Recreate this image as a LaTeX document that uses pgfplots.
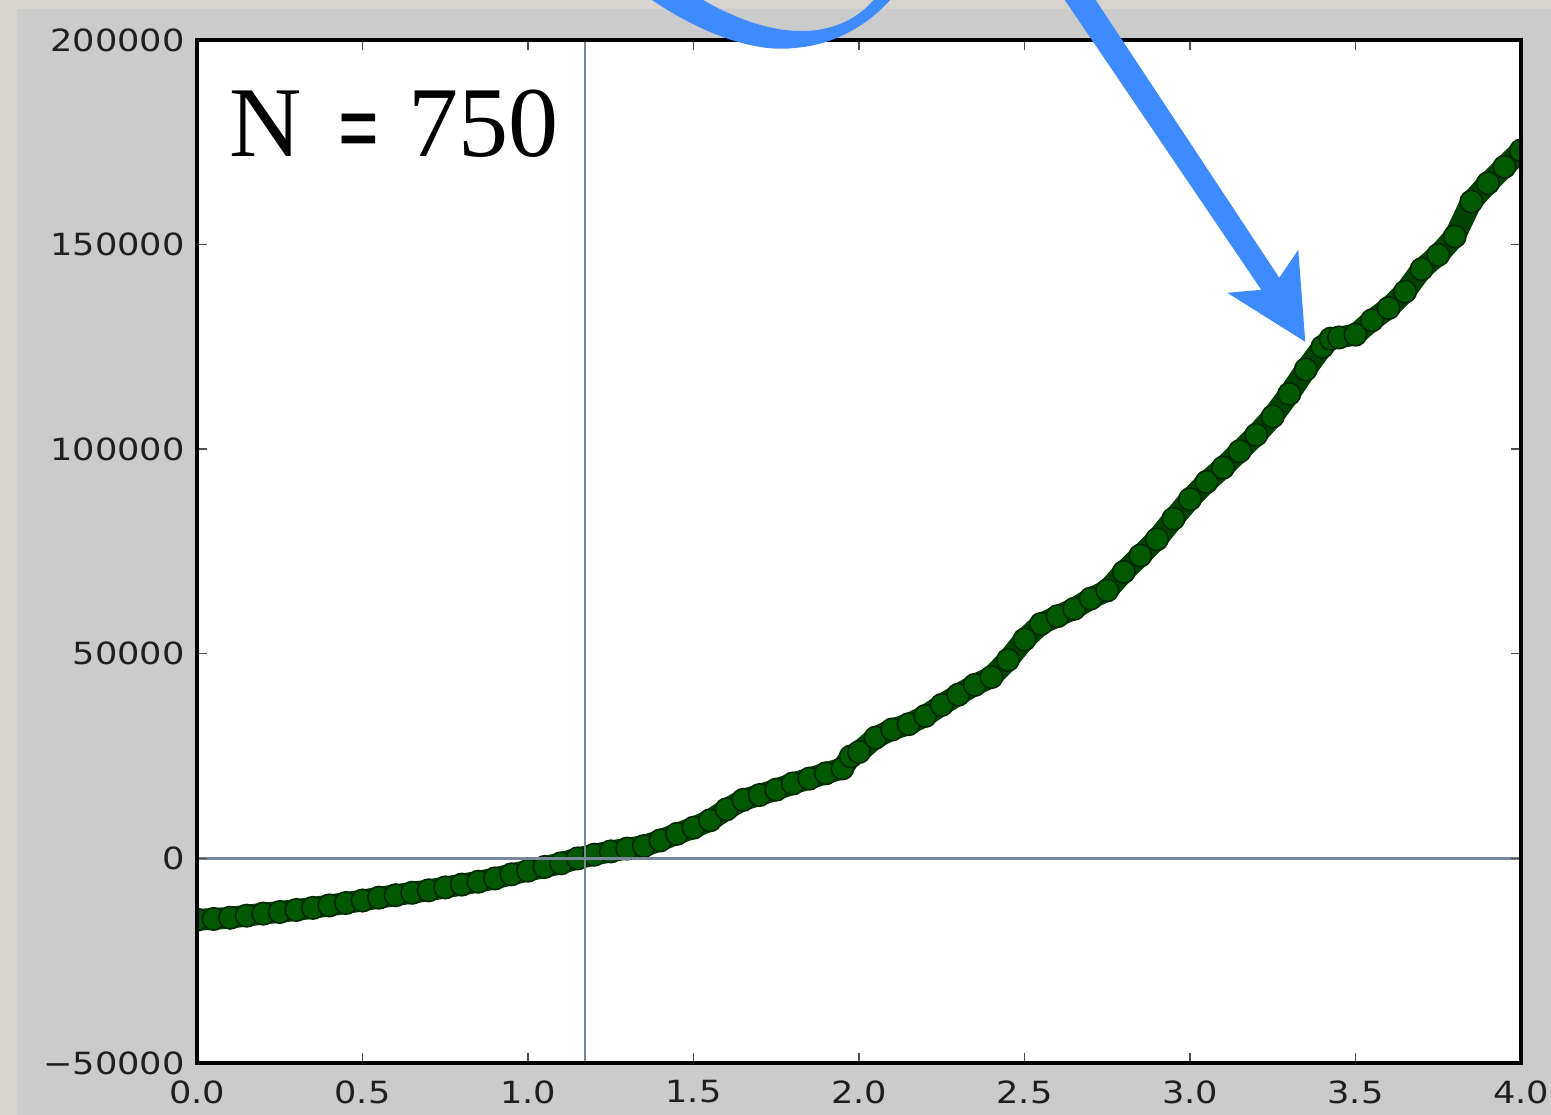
\documentclass[border=0pt]{standalone}
\usepackage{pgfplots}
\usepackage{pgfplotstable}
\pgfplotsset{compat=1.18}
\usepackage{fontspec}
\newfontfamily\tickfont[FakeStretch=1.15]{DejaVu Sans}
\newfontfamily\seriffont{Liberation Serif}
\definecolor{outerbg}{RGB}{214,212,205}
\definecolor{panelbg}{RGB}{203,203,203}
\definecolor{ptblue}{RGB}{61,139,255}
\definecolor{refline}{RGB}{119,136,153}
\definecolor{mkfill}{RGB}{0,88,0}
\definecolor{mkedge}{RGB}{0,38,0}
\definecolor{linegreen}{RGB}{0,66,0}

\pgfplotstableread{
x y
0.00 -15000
0.05 -14800
0.10 -14500
0.15 -14000
0.20 -13500
0.25 -13100
0.30 -12600
0.35 -12100
0.40 -11500
0.45 -10900
0.50 -10300
0.55 -9600
0.60 -9000
0.65 -8400
0.70 -7800
0.75 -7100
0.80 -6400
0.85 -5700
0.90 -4900
0.95 -3900
1.00 -3000
1.05 -2100
1.10 -1200
1.15 0
1.20 900
1.25 1700
1.30 2400
1.35 3000
1.40 4400
1.45 6000
1.50 7500
1.55 9300
1.60 12000
1.65 14300
1.70 15500
1.75 16800
1.80 18300
1.85 19500
1.90 20800
1.95 22000
1.975 24900
2.00 26000
2.05 29500
2.10 31500
2.15 32800
2.20 34800
2.25 37500
2.30 40000
2.35 42400
2.40 44300
2.45 48500
2.50 53500
2.55 57300
2.60 59200
2.65 61000
2.70 63500
2.75 65500
2.80 70000
2.85 74000
2.90 78000
2.95 83000
3.00 87800
3.05 92000
3.10 95500
3.15 99500
3.20 103500
3.25 108000
3.30 113500
3.35 119500
3.40 125000
3.425 127000
3.45 127300
3.50 128000
3.55 131500
3.60 134500
3.65 138500
3.70 144000
3.75 147500
3.80 152000
3.85 160500
3.90 165000
3.95 169000
4.00 173000
}\curvedata

\begin{document}
\begin{tikzpicture}
\useasboundingbox (0,0) rectangle (15.51,11.15);
\fill[outerbg] (0,0) rectangle (15.51,11.15);
\fill[panelbg] (0.17,0) rectangle (15.51,11.06);
\begin{axis}[
  at={(1.97cm,0.52cm)}, anchor=south west,
  scale only axis, width=13.24cm, height=10.23cm,
  xmin=0, xmax=4, ymin=-50000, ymax=200000,
  axis background/.style={fill=white},
  axis on top,
  clip marker paths=true,
  axis line style={black, line width=0.9pt},
  xtick={0,0.5,1,1.5,2,2.5,3,3.5,4},
  xticklabels={0.0,0.5,1.0,1.5,2.0,2.5,3.0,3.5,4.0},
  ytick={-50000,0,50000,100000,150000,200000},
  yticklabels={−50000,0,50000,100000,150000,200000},
  scaled ticks=false,
  tick align=inside, major tick length=0.1cm,
  tick style={line width=0.4pt, color=black!70},
  ticklabel style={font=\tickfont\fontsize{8.7}{10}\selectfont, text=black!88},
  xticklabel style={yshift=-0.05cm},
]
\addplot[linegreen, line width=6.2pt, forget plot] table[x=x,y=y] {\curvedata};
\addplot[only marks, mark=*, mark size=3.2pt,
  mark options={fill=mkfill, draw=mkedge, line width=0.45pt}] table[x=x,y=y] {\curvedata};
\addplot[refline, line width=0.8pt] coordinates {(1.172,-50000) (1.172,200000)};
\addplot[refline, line width=0.8pt] coordinates {(0,0) (4,0)};
\end{axis}
\begin{scope}[x=0.01cm, y=-0.01cm, shift={(0,11.15cm)}]
  \node[anchor=base west, inner sep=0] at (229,157) {\seriffont\fontsize{28.5}{30}\selectfont N};
  \node[anchor=base west, inner sep=0] at (338,166) {\seriffont\fontsize{28.5}{30}\selectfont\scalebox{0.72}[1.1]{\textbf{=}}};
  \node[anchor=base west, inner sep=0] at (408,157) {\seriffont\fontsize{28.5}{30}\selectfont 750};
  % curved brush stroke at the top
  \fill[ptblue] (645,-5) .. controls (712,42) and (765,52) .. (795,48)
     .. controls (835,45) and (870,25) .. (895,-5)
     -- (878,-5) .. controls (860,20) and (830,32) .. (800,31)
     .. controls (770,31) and (732,18) .. (695,-5) -- cycle;
  % arrow pointing at the curve
  \fill[ptblue] (1062,-5) -- (1262,290) -- (1228,293) -- (1306,342)
     -- (1299,250) -- (1280,278) -- (1093,-5) -- cycle;
\end{scope}
\end{tikzpicture}
\end{document}
